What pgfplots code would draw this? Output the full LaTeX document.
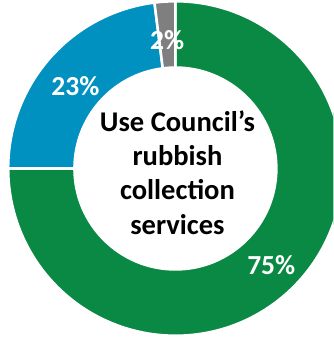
\documentclass[border=0pt]{standalone}
\usepackage{pgfplots}
\usepackage{pgfplotstable}
\pgfplotsset{compat=1.18}
\usepackage{fontspec}
\setmainfont{Carlito}
\definecolor{cgreen}{RGB}{9,137,67}
\definecolor{cblue}{RGB}{0,145,192}
\definecolor{cgray}{RGB}{127,127,127}
\pgfplotstableread{
label value
Yes 75
No 23
Unsure 2
}\donutdata
\begin{document}
\pgfplotstablegetelem{0}{value}\of\donutdata \edef\va{\pgfplotsretval}
\pgfplotstablegetelem{1}{value}\of\donutdata \edef\vb{\pgfplotsretval}
\pgfplotstablegetelem{2}{value}\of\donutdata \edef\vc{\pgfplotsretval}
\begin{tikzpicture}
\begin{axis}[
  width=331pt, height=337pt, scale only axis,
  xmin=0, xmax=331, ymin=0, ymax=337,
  hide axis, clip=true,
]
\def\cx{176}\def\cy{166}\def\R{164}\def\r{99}
\pgfmathsetmacro\aA{90}
\pgfmathsetmacro\aB{90-3.6*\va}
\pgfmathsetmacro\aC{\aB-3.6*\vb}
\pgfmathsetmacro\aD{\aC-3.6*\vc}
\newcommand\sector[3]{%
  \fill[#3, draw=white, line width=2.5pt]
   (axis cs:{\cx+\R*cos(#1)},{\cy+\R*sin(#1)})
   arc[start angle=#1, end angle=#2, radius=\R]
   -- (axis cs:{\cx+\r*cos(#2)},{\cy+\r*sin(#2)})
   arc[start angle=#2, end angle=#1, radius=\r] -- cycle;}
\sector{\aA}{\aB}{cgreen}
\sector{\aB}{\aC}{cblue}
\sector{\aC}{\aD}{cgray}
\node[align=center, font=\fontsize{28}{33.5}\selectfont\bfseries, text=black] at (axis cs:178,162) {Use Council’s\\rubbish\\collection\\services};
\node[font=\fontsize{27}{33}\selectfont\bfseries, text=white] at (axis cs:270,71) {\va\%};
\node[font=\fontsize{27}{33}\selectfont\bfseries, text=white] at (axis cs:78,247) {\vb\%};
\node[font=\fontsize{27}{33}\selectfont\bfseries, text=white] at (axis cs:168,292) {\vc\%};
\end{axis}
\end{tikzpicture}
\end{document}
